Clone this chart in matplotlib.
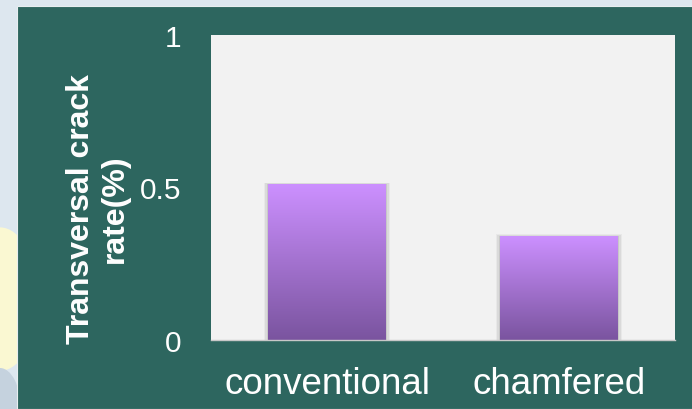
import matplotlib.pyplot as plt
import matplotlib.patches as mpatches
import numpy as np

plt.rcParams['font.family'] = ['Liberation Sans', 'DejaVu Sans']

categories = ["conventional", "chamfered"]
crack_rate = [0.51, 0.34]
yticks = [0, 0.5, 1]
ytick_labels = ["0", "0.5", "1"]

teal = "#2D665F"
plot_bg = "#F2F2F2"
bar_top = np.array([0xCC, 0x90, 0xFF]) / 255
bar_bottom = np.array([0x7A, 0x54, 0x9F]) / 255

fig = plt.figure(figsize=(6.92, 4.10), dpi=100)
fig.patch.set_facecolor("#DDE7EF")

# slide background peeking out on the left
fig.patches.append(mpatches.Ellipse((0.0, 0.268), 0.11, 0.35, transform=fig.transFigure,
                                    facecolor="#FAF8D2", edgecolor="none", zorder=-3))
fig.patches.append(mpatches.Ellipse((0.0, 0.0), 0.06, 0.2, transform=fig.transFigure,
                                    facecolor="#C5D2DE", edgecolor="none", zorder=-2))
fig.patches.append(mpatches.Rectangle((17 / 692, 0), 1, 403 / 410, transform=fig.transFigure,
                                      facecolor=teal, edgecolor="#E8EEF0", linewidth=0.8, zorder=-1))

ax = fig.add_axes([211 / 692, (410 - 341) / 410, 464 / 692, 305 / 410])
ax.set_zorder(2)
ax.set_facecolor(plot_bg)

x = np.arange(len(categories))
bars = ax.bar(x, crack_rate, width=0.505, color="none", edgecolor="none", zorder=3)

# vertical gradient fill plus a soft shadow for each bar
grad = np.linspace(0, 1, 256)[:, None, None]
gradient = bar_bottom + (bar_top - bar_bottom) * grad
for b in bars:
    x0, w, h = b.get_x(), b.get_width(), b.get_height()
    for k, a in [(0.02, 0.04), (0.013, 0.06), (0.006, 0.08)]:
        ax.add_patch(mpatches.Rectangle((x0 - k, 0), w + 2 * k, h + k * 0.3,
                                        facecolor="black", edgecolor="none", alpha=a, zorder=2))
    im = ax.imshow(gradient, extent=[x0, x0 + w, 0, h], origin="lower",
                   aspect="auto", zorder=3, interpolation="bilinear")
    im.set_clip_path(b)

ax.set_xlim(-0.5, 1.5)
ax.set_ylim(0, 1)
ax.set_xticks(x)
ax.set_xticklabels(categories, fontsize=26.5, color="white")
ax.set_yticks(yticks)
ax.set_yticklabels(ytick_labels, fontsize=21.5, color="white")
ax.tick_params(axis="x", length=0, pad=19)
ax.tick_params(axis="y", length=0, pad=21)

for side in ["top", "right", "left"]:
    ax.spines[side].set_visible(False)
ax.spines["bottom"].set_color("#C8C8C8")
ax.spines["bottom"].set_linewidth(1.0)
ax.spines["bottom"].set_zorder(4)

fig.text(98 / 692, (410 - 209) / 410, "Transversal crack\nrate(%)", rotation=90,
         ha="center", va="center", multialignment="center",
         fontsize=23, fontweight="bold", color="white", linespacing=1.2)

fig.savefig("out.png", dpi=100, facecolor=fig.get_facecolor())
